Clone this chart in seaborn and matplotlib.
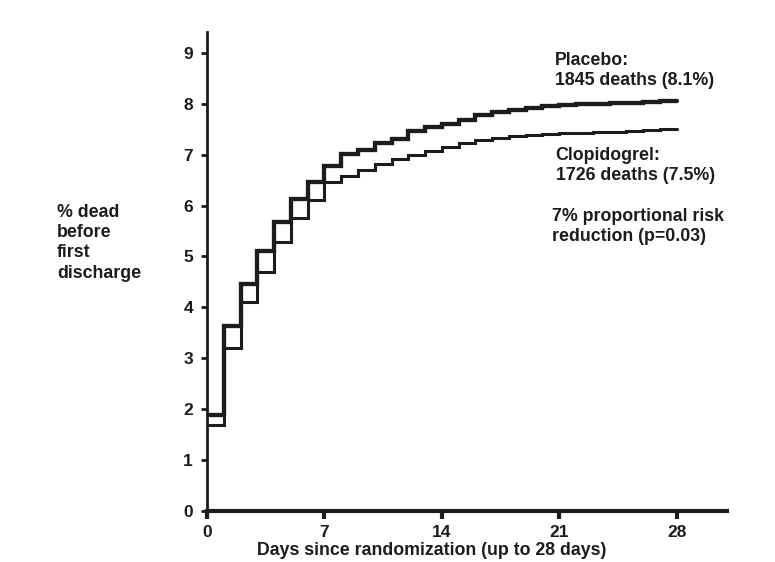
import pandas as pd
import matplotlib
matplotlib.use("Agg")
import matplotlib.pyplot as plt
import seaborn as sns

# cumulative % dead before first discharge, by day since randomization
days = [0, 1, 2, 3, 4, 5, 6, 7, 8, 9, 10, 11, 12, 13, 14,
        15, 16, 17, 18, 19, 20, 21, 22, 23, 24, 25, 26, 27, 28]
placebo = [1.88, 3.64, 4.46, 5.10, 5.67, 6.13, 6.46, 6.78, 7.02, 7.10,
           7.22, 7.31, 7.46, 7.54, 7.61, 7.69, 7.77, 7.84, 7.88, 7.92,
           7.96, 7.98, 8.00, 8.00, 8.01, 8.02, 8.03, 8.05, 8.05]
clopidogrel = [1.68, 3.21, 4.10, 4.70, 5.29, 5.75, 6.10, 6.47, 6.59, 6.69,
               6.82, 6.92, 7.00, 7.08, 7.15, 7.23, 7.29, 7.33, 7.37, 7.39,
               7.41, 7.42, 7.43, 7.44, 7.45, 7.46, 7.49, 7.51, 7.51]

x_ticks = [0, 7, 14, 21, 28]
y_ticks = [0, 1, 2, 3, 4, 5, 6, 7, 8, 9]

placebo_label = "Placebo:\n1845 deaths (8.1%)"
clopi_label = "Clopidogrel:\n1726 deaths (7.5%)"
risk_label = "7% proportional risk\nreduction (p=0.03)"
x_title = "Days since randomization (up to 28 days)"
y_title = "% dead\nbefore\nfirst\ndischarge"

df = pd.DataFrame({"day": days, "Placebo": placebo, "Clopidogrel": clopidogrel})

sns.set_style("ticks")
plt.rcParams["font.family"] = ["Liberation Sans", "DejaVu Sans"]
plt.rcParams["font.weight"] = "bold"
ink = "#1c1c1c"
fs = 12.8

fig = plt.figure(figsize=(7.75, 5.62), dpi=100)
ax = fig.add_axes([207 / 775, 51 / 562, 520 / 775, 479 / 562])

sns.lineplot(data=df, x="day", y="Placebo", ax=ax, color=ink, lw=3.1,
             drawstyle="steps-post", solid_joinstyle="miter")
sns.lineplot(data=df, x="day", y="Clopidogrel", ax=ax, color=ink, lw=2.2,
             drawstyle="steps-post", solid_joinstyle="miter")

ax.set_xlim(0, 31)
ax.set_ylim(0, 9.41)
ax.set_xticks(x_ticks)
ax.set_yticks(y_ticks)
sns.despine(ax=ax)
ax.spines["left"].set_linewidth(2)
ax.spines["bottom"].set_linewidth(3)
ax.spines["left"].set_color(ink)
ax.spines["bottom"].set_color(ink)
ax.tick_params(axis="x", length=6, width=3, pad=4, labelsize=12.5,
               colors=ink)
ax.tick_params(axis="y", length=4, width=2, pad=6, labelsize=12.5,
               colors=ink)
for lab in ax.get_xticklabels() + ax.get_yticklabels():
    lab.set_fontweight("bold")

ax.set_xlabel(x_title, fontsize=fs, fontweight="bold", color=ink)
ax.xaxis.set_label_coords(0.433, -0.064)
ax.set_ylabel("")

fig.text(57 / 775, 1 - 204 / 562, y_title, ha="left", va="top",
         fontsize=fs, fontweight="bold", color=ink, linespacing=1.25)

ax.text(20.72, 9.02, placebo_label, ha="left", va="top", fontsize=fs,
        fontweight="bold", color=ink, linespacing=1.25)
ax.text(20.78, 7.16, clopi_label, ha="left", va="top", fontsize=fs,
        fontweight="bold", color=ink, linespacing=1.25)
ax.text(20.55, 5.96, risk_label, ha="left", va="top", fontsize=fs,
        fontweight="bold", color=ink, linespacing=1.25)

fig.savefig("out.png", dpi=100)
